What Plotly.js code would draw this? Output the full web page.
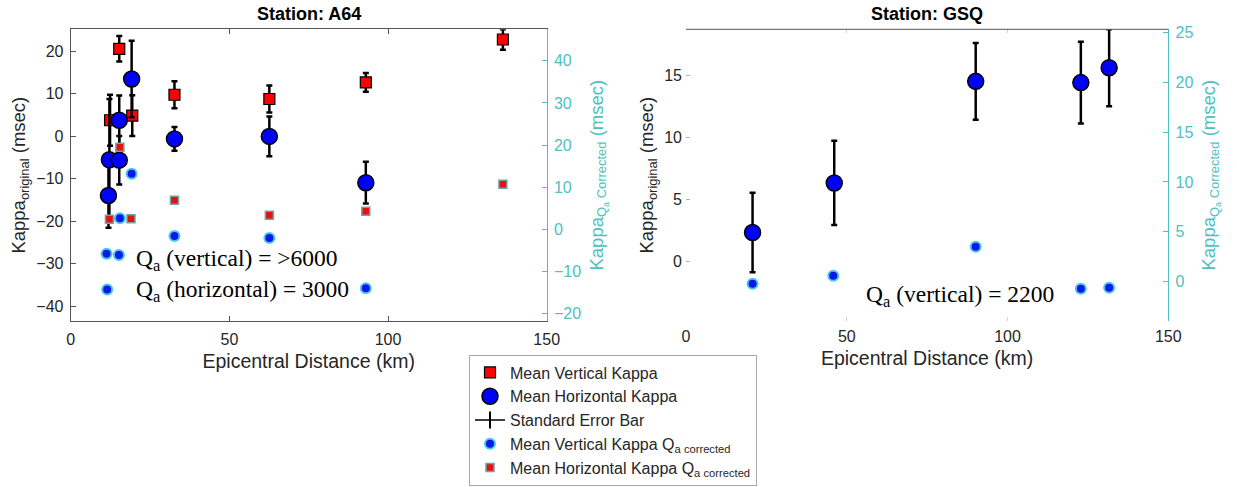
<!DOCTYPE html>
<html>
<head>
<meta charset="utf-8">
<script src="https://cdn.plot.ly/plotly-3.0.1.min.js"></script>
<style>html,body{margin:0;padding:0;background:#fff;}#chart{width:1237px;height:487px;}</style>
</head>
<body>
<div id="chart"></div>
<script>
// ---------- Station A64 ----------
const a64VertDist = [12.4, 15.3, 19.4, 32.7, 62.6, 93.0, 136.2];
const a64VertKappa = [3.8, 20.6, 4.9, 9.8, 8.8, 12.7, 22.8];
const a64VertErr = [6.0, 3.0, 4.8, 3.2, 3.2, 2.2, 2.4];

const a64HorzDist = [11.9, 12.2, 15.3, 15.3, 19.2, 32.7, 62.6, 93.0];
const a64HorzKappa = [-13.9, -5.5, 3.8, -5.6, 13.5, -0.6, 0.0, -10.9];
const a64HorzErr = [7.6, 14.3, 5.8, 5.7, 9.0, 2.8, 4.7, 4.9];

const a64VertCorrDist = [11.3, 15.2, 11.5, 15.5, 19.2, 32.7, 62.6, 93.0];
const a64VertCorrKappa = [-5.8, -6.1, -14.3, 2.6, 13.2, -1.6, -2.1, -14.0];

const a64HorzCorrDist = [12.2, 15.5, 19.0, 32.7, 62.6, 93.0, 136.2];
const a64HorzCorrKappa = [2.4, 19.5, 2.5, 6.9, 3.3, 4.3, 10.7];

// ---------- Station GSQ ----------
const gsqHorzDist = [20.7, 46.1, 90.1, 122.8, 131.6];
const gsqHorzKappa = [2.3, 6.3, 14.5, 14.4, 15.6];
const gsqHorzErr = [3.2, 3.4, 3.1, 3.3, 3.1];

const gsqVertCorrDist = [20.7, 45.8, 90.1, 122.8, 131.6];
const gsqVertCorrKappa = [-0.2, 0.6, 3.5, -0.7, -0.6];

// ---------- labels ----------
const xTicks = [0, 50, 100, 150];
const a64LeftTicks = [-40, -30, -20, -10, 0, 10, 20];
const a64RightTicks = [-20, -10, 0, 10, 20, 30, 40];
const gsqLeftTicks = [0, 5, 10, 15];
const gsqRightTicks = [0, 5, 10, 15, 20, 25];

const CYAN = '#4fc0c0';
const TXT = '#262626';
const FONT = 'Liberation Sans, Arial, sans-serif';
const SERIF = 'Liberation Serif, Times New Roman, serif';

const errStyle = (arr) => ({type: 'data', array: arr, visible: true, color: '#000', thickness: 2.5, width: 3});

const traces = [
  {x: a64VertDist, y: a64VertKappa, xaxis: 'x', yaxis: 'y', type: 'scatter', mode: 'markers',
   name: 'Mean Vertical Kappa', legendgroup: 'v',
   marker: {symbol: 'square', size: 11, color: '#ff0000', line: {color: '#000', width: 1.2}},
   error_y: errStyle(a64VertErr)},
  {x: a64HorzDist, y: a64HorzKappa, xaxis: 'x', yaxis: 'y', type: 'scatter', mode: 'markers',
   name: 'Mean Horizontal Kappa', legendgroup: 'h',
   marker: {symbol: 'circle', size: 16, color: '#0000ff', line: {color: '#000', width: 1.5}},
   error_y: errStyle(a64HorzErr)},
  {x: [null], y: [null], xaxis: 'x', yaxis: 'y', type: 'scatter', mode: 'lines+markers',
   name: 'Standard Error Bar',
   line: {color: '#000', width: 1.5},
   marker: {symbol: 'line-ns-open', size: 12, color: '#000', line: {color: '#000', width: 2}}},
  {x: a64VertCorrDist, y: a64VertCorrKappa, xaxis: 'x', yaxis: 'y2', type: 'scatter', mode: 'markers',
   name: 'Mean Vertical Kappa Q<sub>a corrected</sub>', legendgroup: 'vc',
   marker: {symbol: 'circle', size: 10, color: '#0a18e8', line: {color: '#4dc6ee', width: 2}}},
  {x: a64HorzCorrDist, y: a64HorzCorrKappa, xaxis: 'x', yaxis: 'y2', type: 'scatter', mode: 'markers',
   name: 'Mean Horizontal Kappa Q<sub>a corrected</sub>', legendgroup: 'hc',
   marker: {symbol: 'square', size: 8, color: '#e81010', line: {color: '#6aa8a8', width: 1.5}}},
  {x: gsqHorzDist, y: gsqHorzKappa, xaxis: 'x2', yaxis: 'y3', type: 'scatter', mode: 'markers',
   name: 'Mean Horizontal Kappa', showlegend: false,
   marker: {symbol: 'circle', size: 16, color: '#0000ff', line: {color: '#000', width: 1.5}},
   error_y: errStyle(gsqHorzErr)},
  {x: gsqVertCorrDist, y: gsqVertCorrKappa, xaxis: 'x2', yaxis: 'y4', type: 'scatter', mode: 'markers',
   name: 'Mean Vertical Kappa Q<sub>a corrected</sub>', showlegend: false,
   marker: {symbol: 'circle', size: 10, color: '#0a18e8', line: {color: '#4dc6ee', width: 2}}}
];

const tickFont = {family: FONT, size: 16, color: TXT};
const xTitleFont = {family: FONT, size: 19.5, color: TXT};
const yTitleFont = {family: FONT, size: 18.5, color: TXT};
const cyanTitleFont = {family: FONT, size: 18.5, color: CYAN};
const yDom = [1 - 321 / 487, 1 - 29.3 / 487];

const layout = {
  width: 1237, height: 487,
  margin: {l: 0, r: 0, t: 0, b: 0, pad: 0},
  paper_bgcolor: '#fff', plot_bgcolor: 'rgba(0,0,0,0)',
  font: {family: FONT, color: TXT},
  showlegend: true,
  legend: {x: 469 / 1237, y: 1.5 / 487, xanchor: 'left', yanchor: 'bottom',
    bgcolor: '#fff', bordercolor: '#a8a8a8', borderwidth: 1, itemwidth: 30,
    font: {family: FONT, size: 16, color: TXT}, tracegroupgap: 0},
  xaxis: {domain: [70.7 / 1237, 546.7 / 1237], anchor: 'y', range: [0, 150], tickvals: xTicks,
    ticks: 'inside', ticklen: 5, tickcolor: '#555', showline: true, linecolor: '#555', linewidth: 1,
    mirror: 'ticks', showgrid: false, zeroline: false, tickfont: tickFont, ticklabelstandoff: 4,
    title: {text: 'Epicentral Distance (km)', font: xTitleFont, standoff: 7}},
  yaxis: {domain: yDom, anchor: 'x', range: [-43.45, 25.2], tickvals: a64LeftTicks,
    ticks: 'inside', ticklen: 5, tickcolor: '#555', showline: true, linecolor: '#555', linewidth: 1,
    showgrid: false, zeroline: false, tickfont: tickFont, ticklabelstandoff: 3,
    title: {text: 'Kappa<sub>original</sub> (msec)', font: yTitleFont, standoff: 5}},
  yaxis2: {overlaying: 'y', side: 'right', anchor: 'x', range: [-21.8, 47.5], tickvals: a64RightTicks,
    ticks: 'inside', ticklen: 5, tickcolor: CYAN, showline: true, linecolor: CYAN, linewidth: 1,
    showgrid: false, zeroline: false, tickfont: {family: FONT, size: 16, color: CYAN}, ticklabelstandoff: 3,
    title: {text: 'Kappa<sub>Q<sub>a</sub> Corrected</sub> (msec)', font: cyanTitleFont, standoff: 9}},
  xaxis2: {domain: [686 / 1237, 1168.3 / 1237], anchor: 'y3', range: [0, 150], tickvals: xTicks,
    ticks: 'inside', ticklen: 4, tickcolor: '#d0d0d0', showline: false,
    mirror: 'ticks', showgrid: false, zeroline: false, tickfont: tickFont, ticklabelstandoff: 4,
    title: {text: 'Epicentral Distance (km)', font: xTitleFont, standoff: 7}},
  yaxis3: {domain: yDom, anchor: 'x2', range: [-4.84, 18.7], tickvals: gsqLeftTicks,
    ticks: 'inside', ticklen: 4, tickcolor: '#b0b0b0', showline: false,
    showgrid: false, zeroline: false, tickfont: tickFont, ticklabelstandoff: 3,
    title: {text: 'Kappa<sub>original</sub> (msec)', font: yTitleFont, standoff: 5}},
  yaxis4: {overlaying: 'y3', side: 'right', anchor: 'x2', range: [-3.94, 25.3], tickvals: gsqRightTicks,
    ticks: 'inside', ticklen: 5, tickcolor: CYAN, showline: true, linecolor: CYAN, linewidth: 1,
    showgrid: false, zeroline: false, tickfont: {family: FONT, size: 16, color: CYAN}, ticklabelstandoff: 3,
    title: {text: 'Kappa<sub>Q<sub>a</sub> Corrected</sub> (msec)', font: cyanTitleFont, standoff: 9}},
  shapes: [
    {type: 'line', xref: 'x2 domain', yref: 'y3 domain', x0: 0, x1: 1, y0: 1, y1: 1,
     line: {color: '#555', width: 1}}
  ],
  annotations: [
    {text: '<b>Station: A64</b>', xref: 'paper', yref: 'paper', x: 308.7 / 1237, y: 1 - 14 / 487,
     showarrow: false, font: {family: FONT, size: 18, color: '#000'}, xanchor: 'center', yanchor: 'middle'},
    {text: '<b>Station: GSQ</b>', xref: 'paper', yref: 'paper', x: 927 / 1237, y: 1 - 14 / 487,
     showarrow: false, font: {family: FONT, size: 18, color: '#000'}, xanchor: 'center', yanchor: 'middle'},
    {text: 'Q<sub>a</sub> (vertical) = >6000', xref: 'x', yref: 'y', x: 20.0, y: -29.1,
     showarrow: false, xanchor: 'left', yanchor: 'middle', font: {family: SERIF, size: 23.5, color: '#000'}},
    {text: 'Q<sub>a</sub> (horizontal) = 3000', xref: 'x', yref: 'y', x: 20.0, y: -36.4,
     showarrow: false, xanchor: 'left', yanchor: 'middle', font: {family: SERIF, size: 23.5, color: '#000'}},
    {text: 'Q<sub>a</sub> (vertical) = 2200', xref: 'x2', yref: 'y3', x: 55.5, y: -2.8,
     showarrow: false, xanchor: 'left', yanchor: 'middle', font: {family: SERIF, size: 23.5, color: '#000'}}
  ]
};

Plotly.newPlot('chart', traces, layout, {staticPlot: true, displayModeBar: false});
</script>
</body>
</html>
